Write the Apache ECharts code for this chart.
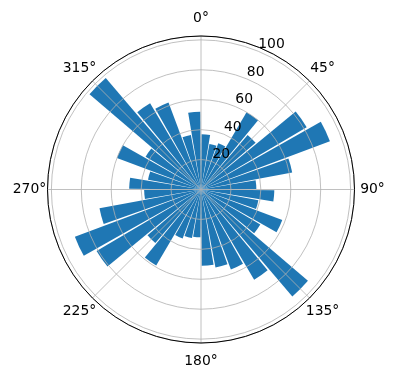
<!DOCTYPE html>
<html>
<head>
<meta charset="utf-8">
<script src="https://cdn.jsdelivr.net/npm/echarts@6/dist/echarts.min.js"></script>
<style>html,body{margin:0;padding:0;background:#fff;}#c{width:396px;height:380px;}</style>
</head>
<body>
<div id="c"></div>
<script>
// Bar start angles (degrees, clockwise from north), each bar ~9 deg wide
const barAngles = [0,10,20,30,40,50,60,70,80,90,100,110,120,130,140,150,160,170,
                   180,190,200,210,220,230,240,250,260,270,280,290,300,310,320,330,340,350];
// Bar radii
const barValues = [37,31,33,60,48,82,92,62,37,49,39,58,46,94,70,57,53,51,
                   32,33,35,59,47,81,90,69,38,48,36,60,43,98,67,62,37,52];
// Angular tick labels (degrees)
const thetaTicks = [0,45,90,135,180,225,270,315];
// Radial tick labels
const rTicks = [20,40,60,80,100];

const RMAX = 102.6;
const CENTER = [201, 189.5];
const RADIUS = 153.5;
const FONT = 'DejaVu Sans';
const FS = 13.9;

const chart = echarts.init(document.getElementById('c'), null, {renderer:'canvas'});
const option = {
  backgroundColor: '#ffffff',
  animation: false,
  polar: [
    {center: CENTER, radius: RADIUS},
    {center: CENTER, radius: RADIUS},
    {center: CENTER, radius: RADIUS}
  ],
  angleAxis: [
    { // grid + labels
      polarIndex: 0, type: 'value', min: 0, max: 360, interval: 45,
      startAngle: 90, clockwise: true, z: 5,
      axisLine: {show: true, lineStyle: {color: '#000', width: 1}},
      axisTick: {show: false},
      splitLine: {show: true, lineStyle: {color: '#b0b0b0', width: 0.8}},
      axisLabel: {
        margin: 17,
        formatter: function (v) { return thetaTicks.indexOf(v) >= 0 ? '{a|' + v + '°}' : ''; },
        rich: {a: {width: 2, height: 2, lineHeight: 2, align: 'center', verticalAlign: 'middle',
                   fontFamily: FONT, fontSize: FS, color: '#000'}}
      }
    },
    { // bars
      polarIndex: 1, type: 'category', data: barAngles.map(String),
      startAngle: 90, clockwise: true, boundaryGap: true,
      axisLine: {show: false}, axisTick: {show: false}, axisLabel: {show: false}, splitLine: {show: false}
    },
    { // radial labels position
      polarIndex: 2, type: 'value', min: 0, max: 360, startAngle: 67.5, clockwise: true,
      axisLine: {show: false}, axisTick: {show: false}, axisLabel: {show: false}, splitLine: {show: false}
    }
  ],
  radiusAxis: [
    {
      polarIndex: 0, type: 'value', min: 0, max: RMAX, interval: 20, z: 5,
      axisLine: {show: false}, axisTick: {show: false}, axisLabel: {show: false},
      splitLine: {show: true, lineStyle: {color: '#b0b0b0', width: 0.8}}
    },
    {
      polarIndex: 1, type: 'value', min: 0, max: RMAX,
      axisLine: {show: false}, axisTick: {show: false}, axisLabel: {show: false}, splitLine: {show: false}
    },
    {
      polarIndex: 2, type: 'value', min: 0, max: RMAX, interval: 20, z: 6,
      axisLine: {show: false}, axisTick: {show: false}, splitLine: {show: false},
      axisLabel: {
        show: true, margin: 0, showMinLabel: false, showMaxLabel: false,
        align: 'left', verticalAlign: 'bottom',
        fontFamily: FONT, fontSize: FS, color: '#000',
        formatter: function (v) { return rTicks.indexOf(v) >= 0 ? String(v) : ''; }
      }
    }
  ],
  series: [{
    type: 'bar', coordinateSystem: 'polar', polarIndex: 1,
    data: barValues, barWidth: '90%', z: 1,
    itemStyle: {color: '#1f77b4'}
  }]
};
chart.setOption(option);
</script>
</body>
</html>
